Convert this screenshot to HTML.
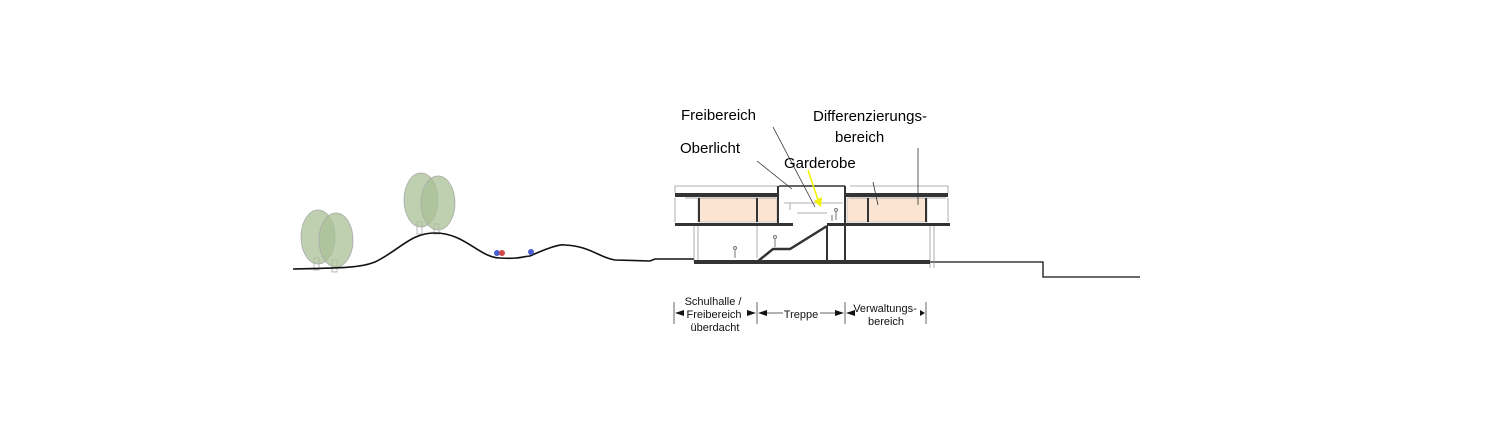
<!DOCTYPE html>
<html><head><style>html,body{margin:0;padding:0;background:#fff}svg{display:block}</style></head><body>
<svg width="1500" height="438" viewBox="0 0 1500 438" xmlns="http://www.w3.org/2000/svg" font-family="Liberation Sans, sans-serif">
<!-- trees -->
<g stroke="#aaa" stroke-width="0.8">
<rect x="314" y="258" width="5" height="12" fill="#fff"/><rect x="332" y="260" width="5" height="12" fill="#fff"/>
<rect x="417" y="222" width="5" height="12" fill="#fff"/><rect x="434" y="224" width="5" height="10" fill="#fff"/>
<ellipse cx="318" cy="237" rx="17" ry="27" fill="#a8c096" fill-opacity="0.75"/>
<ellipse cx="336" cy="240" rx="17" ry="27" fill="#a8c096" fill-opacity="0.75"/>
<ellipse cx="421" cy="200" rx="17" ry="27" fill="#a8c096" fill-opacity="0.75"/>
<ellipse cx="438" cy="203" rx="17" ry="27" fill="#a8c096" fill-opacity="0.75"/>
</g>
<!-- ground -->
<path d="M293 269 C340 268,360 268,375 262 C400 250,410 233,435 233 C465 233,480 258,500 258 C520 259,520 257,530 256 C550 247,560 244,565 245 C590 246,600 258,615 260 L650 261 L655 259 L694 259" fill="none" stroke="#111" stroke-width="1.6"/>
<path d="M930 262 L1043 262 L1043 277 L1140 277" fill="none" stroke="#111" stroke-width="1.3"/>
<!-- people -->
<circle cx="497" cy="253" r="3" fill="#4a5fd0"/><circle cx="502" cy="253" r="3" fill="#d04a4a"/><circle cx="531" cy="252" r="3" fill="#4a5fd0"/>
<!-- building -->
<g fill="#fbe5d2" stroke="#aaa" stroke-width="0.6"><rect x="698" y="198" width="79" height="24"/><rect x="847" y="198" width="80" height="24"/></g>
<g fill="none" stroke="#999" stroke-width="0.8">
<path d="M675 193 V186 H778 M850 186 H948 V193"/>
<path d="M675 198 V222 M948 198 V222 M694 226 V262 M698 226 V262 M757 226 V258 M930 226 V268 M934 226 V268 M685 198 H776 M849 198 H946"/>
<path d="M784 203 H843 M797 213 H827 M790 203 V210"/>
</g>
<g fill="#333" stroke="none">
<rect x="675" y="193" width="104" height="4"/><rect x="845" y="193" width="103" height="4"/>
<rect x="675" y="223" width="118" height="3"/><rect x="827" y="223" width="123" height="3"/>
<rect x="694" y="260" width="236" height="4"/>
<rect x="777" y="186" width="2" height="37"/><rect x="844" y="186" width="2" height="78"/><rect x="826" y="226" width="2" height="37"/>
<rect x="735" y="198" width="1" height="0"/>
<rect x="756" y="198" width="2" height="24"/><rect x="867" y="198" width="2" height="24"/>
<rect x="698" y="198" width="2" height="24"/><rect x="925" y="198" width="2" height="24"/>
</g>
<path d="M779 186 H845" stroke="#333" stroke-width="1.5"/>
<path d="M757 262 L773 249 L790 249 L827 226" fill="none" stroke="#333" stroke-width="2.5"/>
<g fill="none" stroke="#777" stroke-width="1"><circle cx="735" cy="248" r="1.5"/><path d="M735 250 V258"/><circle cx="775" cy="237" r="1.5"/><path d="M775 239 V247"/><circle cx="836" cy="210" r="1.5"/><path d="M836 212 V220 M832 215 V221"/></g>
<!-- leaders -->
<g stroke="#333" stroke-width="0.8"><line x1="757" y1="161" x2="792" y2="189"/><line x1="773" y1="127" x2="815" y2="207"/><line x1="873" y1="182" x2="878" y2="205"/><line x1="918" y1="148" x2="918" y2="205"/></g>
<line x1="808" y1="170" x2="818" y2="200" stroke="#f2f200" stroke-width="1.5"/><path d="M814 201 L821 207 L822 197 Z" fill="#f2f200"/>
<g font-size="15" fill="#000"><text x="681" y="120">Freibereich</text><text x="680" y="153">Oberlicht</text><text x="784" y="168">Garderobe</text><text x="813" y="121">Differenzierungs-</text><text x="835" y="142">bereich</text></g>
<!-- dimensions -->
<g stroke="#666" stroke-width="1"><line x1="674" y1="302" x2="674" y2="324"/><line x1="757" y1="302" x2="757" y2="324"/><line x1="845" y1="302" x2="845" y2="324"/><line x1="926" y1="302" x2="926" y2="324"/>
<line x1="680" y1="313" x2="684" y2="313"/><line x1="765" y1="313" x2="783" y2="313"/><line x1="820" y1="313" x2="837" y2="313"/></g>
<g fill="#111"><path d="M675 313 L684 310 L684 316Z M756 313 L747 310 L747 316Z M758 313 L767 310 L767 316Z M844 313 L835 310 L835 316Z M846 313 L855 310 L855 316Z M925 313 L920 310 L920 316Z"/></g>
<g font-size="11" fill="#111" text-anchor="middle"><text x="713" y="305">Schulhalle /</text><text x="714" y="318">Freibereich</text><text x="715" y="331">überdacht</text><text x="801" y="318">Treppe</text><text x="885" y="312">Verwaltungs-</text><text x="886" y="325">bereich</text></g>
</svg>
</body></html>
